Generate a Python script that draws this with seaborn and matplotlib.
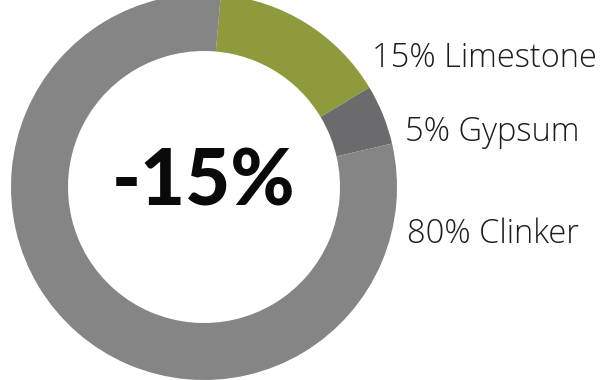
import matplotlib
matplotlib.use("Agg")
import matplotlib.pyplot as plt
import seaborn as sns

sns.set_theme(style="white")
plt.rcParams["font.family"] = ["Lato", "DejaVu Sans"]

# Cement composition
materials = ["Limestone", "Gypsum", "Clinker"]
shares = [15, 5, 80]
colors = ["#8e9a3b", "#6b6b6d", "#858585"]
headline = "-15%"

fig = plt.figure(figsize=(6.05, 3.8), dpi=100)
fig.patch.set_facecolor("white")

# Square axes holding the ring, slightly overflowing the top edge
W, H = 605, 380
cx, cy, r = 204, 187, 193
ax = fig.add_axes([(cx - r) / W, (H - cy - r) / H, 2 * r / W, 2 * r / H])
ax.pie(
    shares,
    colors=colors,
    startangle=85,
    counterclock=False,
    radius=1.0,
    wedgeprops=dict(width=1.0 - 136 / 193, edgecolor="none", linewidth=0),
)
ax.set_xlim(-1, 1)
ax.set_ylim(-1, 1)
ax.set_aspect("equal")
ax.axis("off")

ax.text(0, 0.02, headline, ha="center", va="center",
        fontsize=56, fontweight="black", color="#0a0a0a")

# Labels to the right of the ring
label_pos = [(372, 67), (405, 141), (407, 243)]
for name, val, (lx, ly) in zip(materials, shares, label_pos):
    fig.text(lx / W, 1 - ly / H, f"{val}% {name}", ha="left", va="baseline",
             fontsize=23.5, fontweight="light", color="#1e1e1e",
             family=["Open Sans", "DejaVu Sans"])

fig.savefig("out.png", dpi=100, facecolor="white")
